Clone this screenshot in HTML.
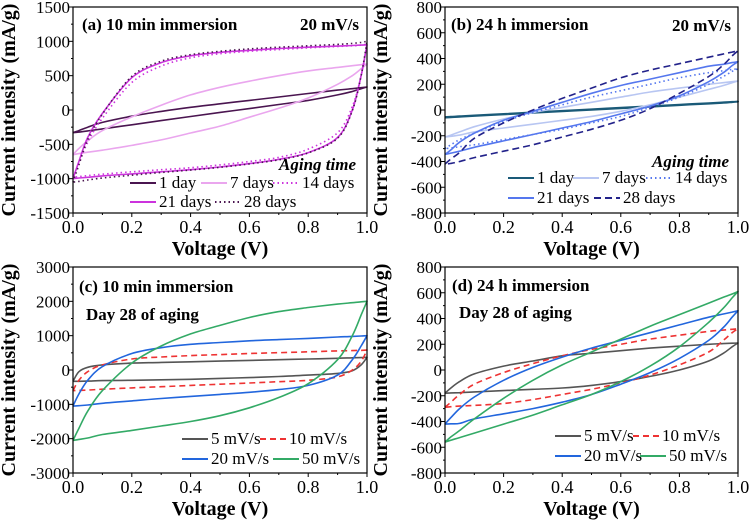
<!DOCTYPE html>
<html><head><meta charset="utf-8"><style>
html,body{margin:0;padding:0;background:#fff}
svg{display:block;font-family:"Liberation Serif","Times New Roman",serif}
svg text{font-family:"Liberation Serif","Times New Roman",serif;fill:#000}
</style></head><body>
<svg id="fig" width="750" height="523" viewBox="0 0 750 523" xmlns="http://www.w3.org/2000/svg" font-family="Liberation Serif, serif"></svg>
<script>
const G = [0,0.02,0.05,0.1,0.2,0.3,0.4,0.5,0.6,0.7,0.8,0.9,0.95,0.98,1];
// Panel a
const aTicksY = [-1500,-1000,-500,0,500,1000,1500];
const a1U = [-330,-300,-250,-180,-90,-20,40,90,140,190,240,290,310,325,335];
const a1L = [-330,-322,-305,-275,-215,-155,-95,-35,20,80,140,220,270,310,335];
const a7U = [-650,-560,-450,-300,-100,70,220,330,420,500,570,620,645,660,670];
const a7L = [-650,-635,-615,-585,-515,-435,-335,-235,-105,25,175,375,500,600,670];
const a14U = [-980,-780,-470,-120,400,640,760,820,855,880,905,925,935,945,960];
const a14L = [-980,-970,-955,-935,-900,-870,-840,-800,-750,-690,-570,-330,50,500,960];
const a21U = [-1000,-750,-400,-50,470,690,790,840,870,895,915,930,940,945,950];
const a21L = [-1000,-990,-980,-960,-930,-900,-870,-830,-780,-720,-620,-400,0,500,950];
const a28U = [-1050,-800,-430,-60,490,710,805,855,890,915,935,955,970,985,1000];
const a28L = [-1050,-1040,-1020,-990,-950,-910,-875,-835,-785,-725,-625,-410,-10,500,1000];
// Panel b
const bTicksY = [-800,-600,-400,-200,0,200,400,600,800];
const b1U = [-55,-53,-49,-43,-31,-19,-7,5,17,29,41,53,59,63,65];
const b1L = [-58,-56,-52,-46,-34,-22,-10,2,14,26,38,50,56,61,65];
const b7U = [-210,-195,-170,-130,-70,-20,20,60,100,140,170,200,212,220,225];
const b7L = [-210,-204,-195,-170,-140,-110,-80,-50,-10,40,100,160,190,212,225];
const b14U = [-300,-270,-230,-180,-90,-20,40,100,150,200,250,290,305,315,320];
const b14L = [-300,-295,-285,-270,-230,-190,-150,-100,-50,20,100,200,260,300,320];
const b21U = [-345,-310,-250,-180,-80,-10,60,130,190,240,290,340,355,368,375];
const b21L = [-345,-335,-320,-290,-240,-190,-140,-90,-30,30,110,220,290,345,375];
const b28U = [-420,-380,-330,-220,-100,0,90,170,250,310,360,410,435,450,460];
const b28L = [-420,-415,-400,-370,-320,-270,-210,-150,-80,10,130,260,350,420,460];
// Panel c
const cTicksY = [-3000,-2000,-1000,0,1000,2000,3000];
const c5U = [-330,-50,80,150,200,220,240,260,280,300,320,340,355,362,370];
const c5L = [-330,-328,-322,-310,-300,-285,-270,-245,-220,-190,-150,-100,-20,150,370];
const c10U = [-600,-300,-50,150,320,380,420,450,480,505,530,555,565,572,580];
const c10L = [-600,-595,-585,-560,-520,-485,-450,-415,-380,-340,-300,-200,0,250,580];
const c20U = [-1050,-700,-300,100,480,650,750,800,850,885,920,960,980,990,1000];
const c20L = [-1050,-1040,-1020,-970,-900,-830,-770,-710,-650,-570,-450,-150,300,700,1000];
const c50U = [-2050,-1700,-1200,-600,200,700,1050,1300,1530,1700,1820,1920,1960,1985,2000];
const c50L = [-2050,-2020,-1980,-1880,-1760,-1630,-1500,-1330,-1100,-800,-400,300,1000,1600,2000];
// Panel d
const dTicksY = [-800,-600,-400,-200,0,200,400,600,800];
const d5U = [-180,-140,-90,-30,30,70,110,130,150,170,185,200,205,208,210];
const d5L = [-180,-178,-176,-170,-160,-150,-140,-120,-90,-50,0,70,130,180,210];
const d10U = [-290,-250,-190,-110,-20,50,110,160,200,240,270,300,310,316,320];
const d10L = [-290,-285,-280,-275,-260,-230,-190,-150,-100,-40,40,140,230,290,320];
const d20U = [-420,-370,-300,-210,-80,20,100,170,230,290,350,410,435,450,460];
const d20L = [-420,-418,-415,-380,-340,-300,-250,-190,-110,-20,90,230,330,410,460];
const d50U = [-560,-520,-470,-380,-220,-80,40,140,240,340,430,520,565,590,610];
const d50L = [-560,-545,-525,-490,-420,-350,-270,-190,-90,30,180,370,480,560,610];
const xTicks = [0,0.2,0.4,0.6,0.8,1.0];
const xTickLabels = ["0.0","0.2","0.4","0.6","0.8","1.0"];

var NS="http://www.w3.org/2000/svg";
var svg=document.getElementById('fig');
var FF='Liberation Serif, serif';
function mk(tag,attrs,parent){var el=document.createElementNS(NS,tag);for(var k in attrs){el.setAttribute(k,attrs[k]);}(parent||svg).appendChild(el);return el;}
function txt(s,x,y,attrs,parent){var a={x:x,y:y,'font-size':17,'font-family':FF};for(var k in attrs){a[k]=attrs[k];}var t=mk('text',a,parent);t.textContent=s;return t;}
function smoothPath(P){
  var d='M'+P[0][0].toFixed(1)+','+P[0][1].toFixed(1);
  for(var i=0;i<P.length-1;i++){
    var p0=P[Math.max(0,i-1)],p1=P[i],p2=P[i+1],p3=P[Math.min(P.length-1,i+2)];
    var c1x=p1[0]+(p2[0]-p0[0])/6,c1y=p1[1]+(p2[1]-p0[1])/6;
    var c2x=p2[0]-(p3[0]-p1[0])/6,c2y=p2[1]-(p3[1]-p1[1])/6;
    d+=' C'+c1x.toFixed(1)+','+c1y.toFixed(1)+' '+c2x.toFixed(1)+','+c2y.toFixed(1)+' '+p2[0].toFixed(1)+','+p2[1].toFixed(1);
  }
  return d;
}

function panel(id,x0,x1,yTop,yBot,ticks,series,title,legend){
  var g=mk('g',{});
  
  
  var ymin=ticks[0],ymax=ticks[ticks.length-1];
  function sx(v){return x0+(x1-x0)*v;}
  function sy(v){return yBot-(yBot-yTop)*(v-ymin)/(ymax-ymin);}
  var step=ticks[1]-ticks[0];
  for(var i=0;i<ticks.length;i++){
    var t=ticks[i];var y=sy(t);
    var tk=mk('line',{x1:x0-4,x2:x0,y1:y,y2:y,stroke:'#000','stroke-width':1},g);
    
    
    var lb=txt(String(t),x0-3,y+6,{'text-anchor':'end'},g);
    
    
    if(i<ticks.length-1){var ym=sy(t+step/2);mk('line',{x1:x0-2,x2:x0,y1:ym,y2:ym,stroke:'#000','stroke-width':1},g);}
  }
  for(var j=0;j<xTicks.length;j++){
    var xv=sx(xTicks[j]);
    var xtk=mk('line',{x1:xv,x2:xv,y1:yBot,y2:yBot+4,stroke:'#000','stroke-width':1},g);
    
    
    var xlb=txt(xTickLabels[j],xv,yBot+20,{'text-anchor':'middle','font-size':18},g);
    
    
    if(j<xTicks.length-1){var xm=sx(xTicks[j]+0.1);mk('line',{x1:xm,x2:xm,y1:yBot,y2:yBot+2,stroke:'#000','stroke-width':1},g);}
  }
  for(var s=0;s<series.length;s++){
    var se=series[s];
    var up=[],lo=[];
    for(var k=0;k<G.length;k++){up.push([sx(G[k]),sy(se.U[k])]);}
    for(var k2=G.length-1;k2>=0;k2--){lo.push([sx(G[k2]),sy(se.L[k2])]);}
    var d=smoothPath(up)+' '+smoothPath(lo).replace('M','L');
    var p=mk('path',{d:d,fill:'none',stroke:se.c,'stroke-width':se.w||1.6,'stroke-dasharray':se.d||'none','stroke-linejoin':'round'},g);
    
    
  }
  var fr=mk('rect',{x:x0,y:yTop,width:x1-x0,height:yBot-yTop,fill:'none',stroke:'#000','stroke-width':1.2},g);
  
  
  for(var m=0;m<title.length;m++){
    var ti=title[m];
    var te=txt(ti.s,ti.x,ti.y,{'font-weight':'bold','font-size':17,'text-anchor':ti.a||'start'},g);
    
    
  }
  for(var n=0;n<legend.length;n++){
    var l=legend[n];
    if(l.head){
      var he=txt(l.head,l.x,l.y,{'font-weight':'bold','font-style':'italic','font-size':17,'text-anchor':'end'},g);
      
      
      continue;
    }
    var ln=mk('line',{x1:l.x,x2:l.x+26,y1:l.y,y2:l.y,stroke:l.c,'stroke-width':2,'stroke-dasharray':l.d||'none'},g);
    
    
    var le=txt(l.s,l.x+29,l.y+5,{'font-size':17},g);
    
    
  }
  var cy=(yTop+yBot)/2, cx=(x0+x1)/2;
  var yt=txt('Current intensity (mA/g)',0,0,{'font-weight':'bold','font-size':20,'text-anchor':'middle','transform':'translate('+(x0-58)+','+cy+') rotate(-90)'},g);
  
  
  var xt=txt('Voltage (V)',cx,yBot+42,{'font-weight':'bold','font-size':20,'text-anchor':'middle'},g);
  
  
}

var P1='#4a1550',P7='#eaa6ee',PM='#cc33dd';
try{
panel('a',73,367,7,213,aTicksY,[
  {n:'1day',U:a1U,L:a1L,c:P1},{n:'7days',U:a7U,L:a7L,c:P7},
  {n:'14days',U:a14U,L:a14L,c:PM,d:'1.5,3'},{n:'21days',U:a21U,L:a21L,c:PM},
  {n:'28days',U:a28U,L:a28L,c:P1,d:'1.5,3'}],
  [{s:'(a) 10 min immersion',x:82,y:30},{s:'20 mV/s',x:359,y:30,a:'end'}],
  [{head:'Aging time',x:356,y:170},
   {s:'1 day',x:130,y:183,c:P1},{s:'7 days',x:201,y:183,c:P7},{s:'14 days',x:273,y:183,c:PM,d:'1.5,3'},
   {s:'21 days',x:130,y:202,c:PM},{s:'28 days',x:215,y:202,c:P1,d:'1.5,3'}]);
}catch(e1){}

var B1='#1a5a78',B7='#b8c6f2',BM='#5577ee',BD='#22228a';
try{
panel('b',445,738,7,213,bTicksY,[
  {n:'1day',U:b1U,L:b1L,c:B1,w:2},{n:'7days',U:b7U,L:b7L,c:B7},
  {n:'14days',U:b14U,L:b14L,c:BM,d:'1.5,3'},{n:'21days',U:b21U,L:b21L,c:BM},
  {n:'28days',U:b28U,L:b28L,c:BD,d:'7,4'}],
  [{s:'(b) 24 h immersion',x:451,y:30},{s:'20 mV/s',x:731,y:31,a:'end'}],
  [{head:'Aging time',x:729,y:167},
   {s:'1 day',x:508,y:178,c:B1},{s:'7 days',x:573,y:178,c:B7},{s:'14 days',x:646,y:178,c:BM,d:'1.5,3'},
   {s:'21 days',x:508,y:198,c:BM},{s:'28 days',x:594,y:198,c:BD,d:'7,4'}]);
}catch(e2){}

var GR='#555555',RD='#ee3333',BL='#2266dd',GN='#33aa66';
try{
panel('c',73,367,267,473,cTicksY,[
  {n:'5mVs',U:c5U,L:c5L,c:GR},{n:'10mVs',U:c10U,L:c10L,c:RD,d:'6,4'},
  {n:'20mVs',U:c20U,L:c20L,c:BL},{n:'50mVs',U:c50U,L:c50L,c:GN}],
  [{s:'(c) 10 min immersion',x:79,y:292},{s:'Day 28 of aging',x:86,y:320}],
  [{s:'5 mV/s',x:182,y:439,c:GR},{s:'10  mV/s',x:260,y:439,c:RD,d:'6,4'},
   {s:'20  mV/s',x:182,y:459,c:BL},{s:'50  mV/s',x:273,y:459,c:GN}]);
}catch(e3){}

try{
panel('d',445,738,267,473,dTicksY,[
  {n:'5mVs',U:d5U,L:d5L,c:GR},{n:'10mVs',U:d10U,L:d10L,c:RD,d:'6,4'},
  {n:'20mVs',U:d20U,L:d20L,c:BL},{n:'50mVs',U:d50U,L:d50L,c:GN}],
  [{s:'(d) 24 h immersion',x:452,y:291},{s:'Day 28 of aging',x:459,y:318}],
  [{s:'5 mV/s',x:555,y:436,c:GR},{s:'10 mV/s',x:633,y:436,c:RD,d:'6,4'},
   {s:'20 mV/s',x:555,y:456,c:BL},{s:'50 mV/s',x:640,y:456,c:GN}]);
}catch(e4){}
</script>
</body></html>
